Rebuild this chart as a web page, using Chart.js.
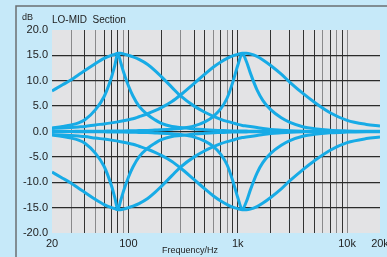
<!DOCTYPE html>
<html>
<head>
<meta charset="utf-8">
<script src="https://cdn.jsdelivr.net/npm/chart.js@4"></script>
<style>
  html, body { margin: 0; padding: 0; background: #c6e9f9; }
  #wrap { width: 387px; height: 257px; }
</style>
</head>
<body>
<div id="wrap"><canvas id="eq_chart" width="387" height="257"></canvas></div>
<script>
// frequencies (Hz) the curves were read at
var freqs = [20, 25, 30, 35, 40, 50, 60, 70, 75, 80, 85, 90, 100, 110, 125, 150, 175, 200, 250, 300,
    400, 500, 600, 700, 800, 900, 1000, 1100, 1200, 1300, 1500, 1700, 2000, 2500, 3000,
    4000, 5000, 7000, 10000, 15000, 20000];

// gain in dB, LO-MID section at ~80 Hz and ~1.1 kHz
var lowWideBoost = [8.0, 9.2, 10.2, 11.2, 12.0, 13.4, 14.4, 15.0, 15.2, 15.4, 15.4, 15.3, 15.0, 14.7, 14.2, 13.2, 12.0, 10.8, 8.7, 7.0,
    5.0, 3.8, 3.0, 2.4, 2.0, 1.7, 1.4, 1.2, 1.1, 1.0, 0.8, 0.6, 0.4, 0.25, 0.15, 0.05, 0, 0, 0, 0, 0];
var lowNarrowBoost = [0.7, 1.0, 1.3, 1.7, 2.3, 4.3, 6.9, 10.7, 13.0, 15.3, 13.6, 11.8, 9.0, 7.0, 5.0, 3.3, 2.3, 1.6, 1.0, 0.8,
    0.5, 0.35, 0.25, 0.2, 0.15, 0.12, 0.1, 0.1, 0.08, 0.07, 0.05, 0.04, 0.03, 0.02, 0.02, 0.01, 0, 0, 0, 0, 0];
var lowWideCut = [-8.0, -9.2, -10.2, -11.2, -12.0, -13.4, -14.4, -15.0, -15.2, -15.4, -15.4, -15.3, -15.0, -14.7, -14.2, -13.2, -12.0, -10.8, -8.7, -7.0,
    -5.0, -3.8, -3.0, -2.4, -2.0, -1.7, -1.4, -1.2, -1.1, -1.0, -0.8, -0.6, -0.4, -0.25, -0.15, -0.05, 0, 0, 0, 0, 0];
var lowNarrowCut = [-0.7, -1.0, -1.3, -1.7, -2.3, -4.3, -6.9, -10.7, -13.0, -15.3, -13.6, -11.8, -9.0, -7.0, -5.0, -3.3, -2.3, -1.6, -1.0, -0.8,
    -0.5, -0.35, -0.25, -0.2, -0.15, -0.12, -0.1, -0.1, -0.08, -0.07, -0.05, -0.04, -0.03, -0.02, -0.02, -0.01, 0, 0, 0, 0, 0];
var hiWideBoost = [0.6, 0.7, 0.8, 0.9, 1.0, 1.3, 1.5, 1.7, 1.8, 1.9, 2.0, 2.1, 2.3, 2.5, 2.9, 3.5, 4.1, 4.7, 5.9, 7.2,
    9.5, 11.3, 12.7, 13.7, 14.4, 14.9, 15.2, 15.4, 15.4, 15.3, 14.8, 14.1, 13.0, 11.3, 9.7, 7.4, 5.8, 3.7, 2.2, 1.4, 1.1];
var hiNarrowBoost = [0, 0, 0.02, 0.03, 0.04, 0.05, 0.07, 0.08, 0.09, 0.1, 0.1, 0.11, 0.13, 0.15, 0.18, 0.22, 0.28, 0.33, 0.45, 0.6,
    1.1, 1.9, 3.0, 4.5, 6.6, 9.7, 13.0, 15.3, 13.8, 11.6, 8.2, 6.1, 4.3, 2.7, 1.8, 0.9, 0.55, 0.25, 0.12, 0.05, 0.03];
var hiWideCut = [-0.6, -0.7, -0.8, -0.9, -1.0, -1.3, -1.5, -1.7, -1.8, -1.9, -2.0, -2.1, -2.3, -2.5, -2.9, -3.5, -4.1, -4.7, -5.9, -7.2,
    -9.5, -11.3, -12.7, -13.7, -14.4, -14.9, -15.2, -15.4, -15.4, -15.3, -14.8, -14.1, -13.0, -11.3, -9.7, -7.4, -5.8, -3.7, -2.2, -1.4, -1.1];
var hiNarrowCut = [0, 0, -0.02, -0.03, -0.04, -0.05, -0.07, -0.08, -0.09, -0.1, -0.1, -0.11, -0.13, -0.15, -0.18, -0.22, -0.28, -0.33, -0.45, -0.6,
    -1.1, -1.9, -3.0, -4.5, -6.6, -9.7, -13.0, -15.3, -13.8, -11.6, -8.2, -6.1, -4.3, -2.7, -1.8, -0.9, -0.55, -0.25, -0.12, -0.05, -0.03];

// axis ticks
var gridFreqs = [20, 30, 40, 50, 60, 70, 80, 90, 100, 200, 300, 400, 500, 600, 700, 800, 900,
    1000, 2000, 3000, 4000, 5000, 6000, 7000, 8000, 9000, 10000, 20000];
var freqLabels = { 20: '20', 100: '100', 1000: '1k', 10000: '10k', 20000: '20k' };
var lightLines = [30, 50, 90, 300, 600, 800, 6000, 8000, 10000];

var FONT = 'Arial, "Liberation Sans", sans-serif';
var CURVE = '#17abe6';

function toPoints(vals) {
    return freqs.map(function (f, i) { return { x: f, y: vals[i] }; });
}

var frame = {
    id: 'frame',
    beforeDraw: function (chart) {
        var c = chart.ctx, a = chart.chartArea;
        c.save();
        c.fillStyle = '#c6e9f9';
        c.fillRect(0, 0, chart.width, chart.height);
        c.fillStyle = '#e3e3e5';
        c.fillRect(a.left, a.top, a.right - a.left, a.bottom - a.top);
        c.restore();
    },
    afterDraw: function (chart) {
        var c = chart.ctx;
        c.save();
        c.strokeStyle = '#6b6f72';
        c.lineWidth = 1.5;
        c.beginPath();
        c.moveTo(16, 257);
        c.lineTo(16, 6);
        c.lineTo(387, 6);
        c.stroke();
        c.fillStyle = '#222';
        c.textBaseline = 'alphabetic';
        c.font = '9px ' + FONT;
        c.fillText('dB', 22, 20);
        c.font = '10px ' + FONT;
        c.fillText('LO-MID  Section', 52, 23);
        c.font = '9px ' + FONT;
        c.fillText('Frequency/Hz', 162, 253);
        c.restore();
    }
};

var curves = [lowWideBoost, lowNarrowBoost, lowWideCut, lowNarrowCut,
    hiWideBoost, hiNarrowBoost, hiWideCut, hiNarrowCut];

new Chart(document.getElementById('eq_chart').getContext('2d'), {
    type: 'line',
    data: {
        datasets: curves.map(function (vals) {
            return {
                data: toPoints(vals),
                borderColor: CURVE,
                borderWidth: 3,
                pointRadius: 0,
                fill: false,
                cubicInterpolationMode: 'monotone'
            };
        })
    },
    options: {
        responsive: false,
        devicePixelRatio: 1,
        animation: false,
        layout: { padding: { top: 30, right: 7, left: 0, bottom: 0 } },
        plugins: { legend: { display: false }, tooltip: { enabled: false } },
        scales: {
            x: {
                type: 'logarithmic',
                min: 20,
                max: 20000,
                afterBuildTicks: function (scale) {
                    scale.ticks = gridFreqs.map(function (v) { return { value: v }; });
                },
                afterFit: function (scale) {
                    scale.height = 24;
                    scale.paddingLeft = 0;
                    scale.paddingRight = 0;
                },
                border: { display: false },
                grid: {
                    drawTicks: false,
                    lineWidth: 1,
                    color: function (ctx) {
                        var v = ctx.tick ? ctx.tick.value : 0;
                        if (v === 20 || v === 20000) return 'rgba(0,0,0,0)';
                        return lightLines.indexOf(v) >= 0 ? '#8a8a8c' : '#333';
                    }
                },
                ticks: {
                    autoSkip: false,
                    maxRotation: 0,
                    padding: 4,
                    color: '#222',
                    font: { family: FONT, size: 11 },
                    callback: function (v) { return freqLabels[v] || ''; }
                }
            },
            y: {
                min: -20,
                max: 20,
                afterFit: function (scale) {
                    scale.width = 52;
                    scale.paddingTop = 0;
                    scale.paddingBottom = 0;
                },
                border: { display: false },
                grid: {
                    drawTicks: false,
                    lineWidth: 1.3,
                    color: function (ctx) {
                        var v = ctx.tick ? ctx.tick.value : 0;
                        return (v === 20 || v === -20) ? 'rgba(0,0,0,0)' : '#2b2b2b';
                    }
                },
                ticks: {
                    stepSize: 5,
                    padding: 4,
                    color: '#222',
                    font: { family: FONT, size: 11 },
                    callback: function (v) { return v.toFixed(1); }
                }
            }
        }
    },
    plugins: [frame]
});
</script>
</body>
</html>
